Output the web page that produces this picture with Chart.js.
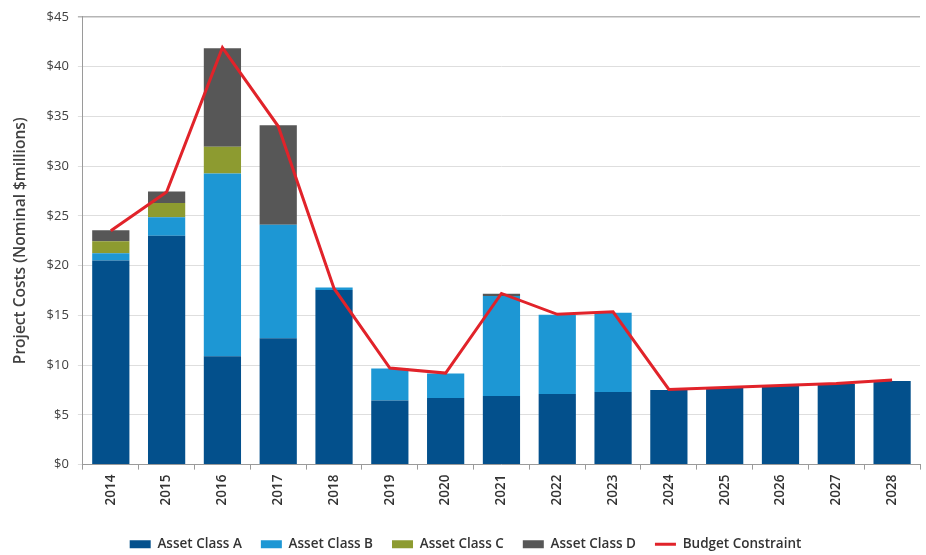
<!DOCTYPE html>
<html>
<head>
<meta charset="utf-8">
<script src="https://cdn.jsdelivr.net/npm/chart.js@4.4.1/dist/chart.umd.min.js"></script>
<style>
  html, body { margin: 0; padding: 0; background: #ffffff; }
  #wrap { width: 926px; height: 555px; }
</style>
</head>
<body>
<div id="wrap"><canvas id="c" width="926" height="555"></canvas></div>
<script>
// Project cost forecast by asset class, $ millions (nominal)
const years = ['2014','2015','2016','2017','2018','2019','2020','2021','2022','2023','2024','2025','2026','2027','2028'];
const assetClassA = [20.5, 23.0, 10.9, 12.7, 17.55, 6.45, 6.7, 6.9, 7.1, 7.3, 7.5, 7.75, 7.95, 8.1, 8.4];
const assetClassB = [0.75, 1.85, 18.35, 11.4, 0.25, 3.2, 2.45, 10.05, 7.95, 7.95, 0, 0, 0, 0, 0];
const assetClassC = [1.2, 1.45, 2.7, 0, 0, 0, 0, 0, 0, 0, 0, 0, 0, 0, 0];
const assetClassD = [1.1, 1.15, 9.9, 10.0, 0, 0, 0, 0.23, 0, 0, 0, 0, 0, 0, 0];
const budgetConstraint = [23.5, 27.4, 41.9, 34.0, 17.7, 9.7, 9.2, 17.2, 15.1, 15.35, 7.55, 7.75, 7.95, 8.15, 8.5];
const yTicks = [0, 5, 10, 15, 20, 25, 30, 35, 40, 45];

const colA = '#03508c', colB = '#1d97d4', colC = '#8d9b30', colD = '#575757', colBudget = '#e1232a';
const fontFamily = "'Open Sans', 'Liberation Sans', sans-serif";

function barSet(label, data, color) {
  return {
    type: 'bar', label, data, backgroundColor: color, borderWidth: 0,
    stack: 'costs', order: 1, categoryPercentage: 1.0, barPercentage: 0.667,
    pointStyle: 'rect'
  };
}

new Chart(document.getElementById('c'), {
  data: {
    labels: years,
    datasets: [
      barSet('Asset Class A', assetClassA, colA),
      barSet('Asset Class B', assetClassB, colB),
      barSet('Asset Class C', assetClassC, colC),
      barSet('Asset Class D', assetClassD, colD),
      {
        type: 'line', label: 'Budget Constraint', data: budgetConstraint,
        borderColor: colBudget, backgroundColor: colBudget, borderWidth: 3,
        pointRadius: 0, tension: 0, order: 0, pointStyle: 'line'
      }
    ]
  },
  options: {
    responsive: false,
    animation: false,
    layout: { padding: { left: 11, right: 6, top: 8, bottom: -6 } },
    plugins: {
      tooltip: { enabled: false },
      legend: {
        position: 'bottom',
        labels: {
          usePointStyle: true,
          pointStyleWidth: 21,
          boxHeight: 8,
          padding: 19,
          color: '#333333',
          font: { family: fontFamily, size: 13.5, weight: '600' },
          sort: (a, b) => a.datasetIndex - b.datasetIndex
        }
      }
    },
    scales: {
      x: {
        stacked: true,
        offset: true,
        afterFit: (scale) => { scale.height += 8; },
        grid: { drawOnChartArea: false, drawTicks: true, tickLength: 5, color: '#9a9a9a' },
        border: { color: '#9a9a9a', width: 1 },
        ticks: {
          minRotation: 90, maxRotation: 90, color: '#333333', padding: 5,
          font: { family: fontFamily, size: 13.5, weight: '600' }
        }
      },
      y: {
        stacked: true,
        min: 0, max: 45,
        afterBuildTicks: (axis) => { axis.ticks = yTicks.map(v => ({ value: v })); },
        grid: {
          color: (ctx) => ctx.tick && ctx.tick.value === 45 ? '#b5b5b5' : '#dedede',
          lineWidth: (ctx) => ctx.tick && ctx.tick.value === 45 ? 1.5 : 1,
          tickLength: 5
        },
        border: { color: '#9a9a9a', width: 1 },
        ticks: {
          color: '#404040', padding: 9,
          font: { family: fontFamily, size: 13 },
          callback: (v) => '$' + v
        },
        title: {
          display: true,
          text: 'Project Costs (Nominal $millions)',
          color: '#404040',
          font: { family: fontFamily, size: 15.5, weight: '600' },
          padding: { top: 0, bottom: 8 }
        }
      }
    }
  }
});
</script>
</body>
</html>
